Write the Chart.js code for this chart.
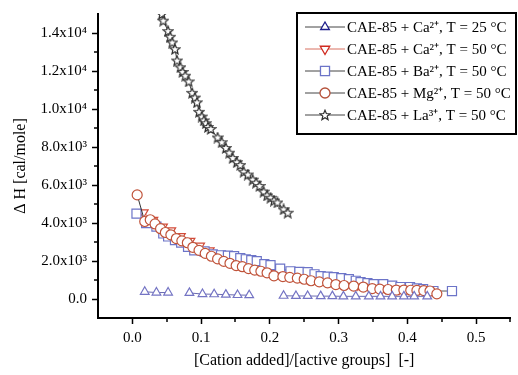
<!DOCTYPE html>
<html>
<head>
<meta charset="utf-8">
<script src="https://cdn.jsdelivr.net/npm/chart.js@4.4.1/dist/chart.umd.min.js"></script>
<style>
body { margin: 0; background: #fff; }
#wrap { width: 518px; height: 375px; position: relative; }
</style>
</head>
<body>
<div id="wrap"><canvas id="heatChart"></canvas></div>
<script>
// values (x = cation/active groups, y = delta H in cal/mole)
const ca25X = [0.018, 0.035, 0.052, 0.068, 0.083, 0.102, 0.119, 0.136, 0.153, 0.170, 0.195, 0.220, 0.238, 0.255, 0.274, 0.291, 0.307, 0.325, 0.344, 0.361, 0.378, 0.395, 0.410, 0.429];
const ca25Y = [380, 340, 340, null, 320, 260, 250, 230, 210, 200, null, 170, 160, 160, 150, 150, 140, 140, 140, 140, 140, 140, 140, 140];

const ca50X = [0.016, 0.030, 0.044, 0.056, 0.070, 0.084, 0.098, 0.112, 0.128, 0.144, 0.160, 0.176, 0.192, 0.210, 0.228, 0.248, 0.268, 0.288, 0.308, 0.328, 0.348, 0.368, 0.388, 0.408, 0.428];
const ca50Y = [4550, 4150, 3800, 3600, 3300, 3050, 2800, 2550, 2300, 2050, 1850, 1650, 1500, 1350, 1250, 1150, 1050, 950, 850, 750, 650, 580, 520, 480, 440];

const baX = [0.006, 0.020, 0.035, 0.045, 0.052, 0.062, 0.071, 0.081, 0.090, 0.105, 0.117, 0.129, 0.139, 0.148, 0.157, 0.165, 0.173, 0.181, 0.192, 0.201, 0.215, 0.230, 0.243, 0.255, 0.265, 0.274, 0.284, 0.293, 0.304, 0.315, 0.325, 0.332, 0.342, 0.351, 0.365, 0.378, 0.390, 0.404, 0.414, 0.423, 0.438, 0.465];
const baY = [4490, 4000, 3810, 3450, 3290, 3100, 2970, 2750, 2560, 2500, 2350, 2300, 2280, 2250, 2150, 2090, 2040, 1990, 1830, 1780, 1600, 1460, 1430, 1410, 1300, 1200, 1180, 1150, 1100, 1040, 960, 890, 830, 780, 780, 700, 630, 630, 560, 520, 420, 420];

const mgX = [0.007, 0.018, 0.026, 0.033, 0.041, 0.048, 0.056, 0.064, 0.072, 0.080, 0.088, 0.097, 0.106, 0.115, 0.124, 0.133, 0.142, 0.151, 0.160, 0.169, 0.178, 0.187, 0.196, 0.206, 0.219, 0.229, 0.240, 0.250, 0.260, 0.272, 0.284, 0.296, 0.308, 0.322, 0.336, 0.349, 0.360, 0.372, 0.384, 0.395, 0.405, 0.414, 0.424, 0.433, 0.443];
const mgY = [5480, 4080, 4170, 3950, 3700, 3500, 3380, 3180, 3060, 2960, 2720, 2560, 2400, 2250, 2110, 1980, 1880, 1760, 1700, 1600, 1520, 1460, 1380, 1220, 1180, 1140, 1100, 1040, 960, 900, 850, 760, 710, 680, 630, 550, 520, 500, 470, 470, 460, 450, 440, 420, 270];

const laX = [0.043, 0.045, 0.052, 0.055, 0.058, 0.062, 0.065, 0.070, 0.073, 0.077, 0.082, 0.087, 0.091, 0.094, 0.097, 0.101, 0.104, 0.107, 0.110, 0.114, 0.124, 0.130, 0.136, 0.141, 0.146, 0.152, 0.157, 0.162, 0.168, 0.175, 0.180, 0.185, 0.191, 0.196, 0.201, 0.206, 0.211, 0.220, 0.226];
const laY = [15000, 14650, 14100, 13800, 13500, 13150, 12550, 12200, 11950, 11750, 11450, 10850, 10600, 10350, 9850, 9600, 9400, 9250, 9050, 8950, 8500, 8250, 7950, 7700, 7420, 7200, 7050, 6700, 6550, 6280, 6120, 5950, 5650, 5450, 5330, 5180, 5080, 4720, 4540];

const seriesLabels = [
  'CAE-85 + Ca\u00B2\u207A, T = 25 \u00B0C',
  'CAE-85 + Ca\u00B2\u207A, T = 50 \u00B0C',
  'CAE-85 + Ba\u00B2\u207A, T = 50 \u00B0C',
  'CAE-85 + Mg\u00B2\u207A, T = 50 \u00B0C',
  'CAE-85 + La\u00B3\u207A, T = 50 \u00B0C'
];

const xTickValues = [0, 0.1, 0.2, 0.3, 0.4, 0.5];
const xTickLabels = ['0.0', '0.1', '0.2', '0.3', '0.4', '0.5'];
const xMinorValues = [0.05, 0.15, 0.25, 0.35, 0.45, 0.55];
const yTickValues = [0, 2000, 4000, 6000, 8000, 10000, 12000, 14000];
const yTickLabels = ['0.0', '2.0x10\u00B3', '4.0x10\u00B3', '6.0x10\u00B3', '8.0x10\u00B3', '1.0x10\u2074', '1.2x10\u2074', '1.4x10\u2074'];
const yMinorValues = [1000, 3000, 5000, 7000, 9000, 11000, 13000];

const FONT = '"Liberation Serif", "Times New Roman", serif';

function toPoints(xs, ys) {
  return xs.map((x, i) => ({ x: x, y: ys[i] }));
}

// five pointed star marker, drawn once into a small canvas
function makeStar(color) {
  const cv = document.createElement('canvas');
  cv.width = 12; cv.height = 12;
  const c = cv.getContext('2d');
  c.beginPath();
  for (let i = 0; i < 10; i++) {
    const r = i % 2 === 0 ? 5.2 : 2.3;
    const a = -Math.PI / 2 + i * Math.PI / 5;
    const px = 6 + r * Math.cos(a), py = 6.4 + r * Math.sin(a);
    if (i === 0) c.moveTo(px, py); else c.lineTo(px, py);
  }
  c.closePath();
  c.fillStyle = '#fff';
  c.fill();
  c.strokeStyle = color;
  c.lineWidth = 1.2;
  c.stroke();
  return cv;
}

const starPlot = makeStar('#2e2e2e');

const minorTicks = {
  id: 'minorTicks',
  afterDraw(chart) {
    const c = chart.ctx, a = chart.chartArea;
    const xs = chart.scales.x, ys = chart.scales.y;
    c.save();
    c.strokeStyle = '#000';
    c.lineWidth = 1.5;
    c.beginPath();
    xMinorValues.forEach(v => {
      const px = Math.round(xs.getPixelForValue(v));
      c.moveTo(px, a.bottom); c.lineTo(px, a.bottom + 4);
    });
    yMinorValues.forEach(v => {
      const py = Math.round(ys.getPixelForValue(v));
      c.moveTo(a.left, py); c.lineTo(a.left - 4, py);
    });
    c.stroke();
    c.restore();
  }
};

const legendBox = {
  id: 'legendBox',
  afterDraw(chart) {
    const c = chart.ctx;
    c.save();
    c.fillStyle = '#fff';
    c.fillRect(297, 13, 219, 121);
    c.lineWidth = 2;
    c.strokeStyle = '#000';
    c.strokeRect(297, 13, 219, 121);
    chart.data.datasets.forEach((ds, i) => {
      const y = 27 + i * 22;
      c.strokeStyle = ds.legendLine;
      c.lineWidth = 1;
      c.beginPath();
      c.moveTo(305, y); c.lineTo(345, y);
      c.stroke();
      c.fillStyle = '#fff';
      c.strokeStyle = ds.legendColor;
      c.lineWidth = 1.3;
      Chart.helpers.drawPoint(c, {
        pointStyle: ds.pointStyle, radius: ds.pointRadius,
        rotation: ds.pointRotation || 0, borderWidth: 1.3
      }, 325, y);
      c.fillStyle = '#000';
      c.font = '15px ' + FONT;
      c.textBaseline = 'middle';
      c.fillText(ds.label, 347, y + 1);
    });
    c.restore();
  }
};

const ctx = document.getElementById('heatChart').getContext('2d');

new Chart(ctx, {
  type: 'scatter',
  data: {
    datasets: [
      {
        label: seriesLabels[0], data: toPoints(ca25X, ca25Y), showLine: true, spanGaps: false,
        borderColor: '#6a6ab0', borderWidth: 1, pointStyle: 'triangle', pointRadius: 5,
        pointBorderColor: '#7474c4', pointBackgroundColor: '#fff', pointBorderWidth: 1.2,
        legendColor: '#1c1c8a', legendLine: '#444', order: 0
      },
      {
        label: seriesLabels[1], data: toPoints(ca50X, ca50Y), showLine: true,
        borderColor: '#d8705f', borderWidth: 1, pointStyle: 'triangle', pointRotation: 180, pointRadius: 5.5,
        pointBorderColor: '#d24a38', pointBackgroundColor: '#fff', pointBorderWidth: 1.2,
        legendColor: '#d02a20', legendLine: '#d87060', order: 3
      },
      {
        label: seriesLabels[2], data: toPoints(baX, baY), showLine: true,
        borderColor: '#555', borderWidth: 1, pointStyle: 'rect', pointRadius: 6.4,
        pointBorderColor: '#6c74c8', pointBackgroundColor: '#fff', pointBorderWidth: 1.2,
        legendColor: '#6c74c8', legendLine: '#444', order: 2
      },
      {
        label: seriesLabels[3], data: toPoints(mgX, mgY), showLine: true,
        borderColor: '#333', borderWidth: 1, pointStyle: 'circle', pointRadius: 5,
        pointBorderColor: '#c0533a', pointBackgroundColor: '#fff', pointBorderWidth: 1.2,
        legendColor: '#b5513a', legendLine: '#444', order: 1
      },
      {
        label: seriesLabels[4], data: toPoints(laX, laY), showLine: true,
        borderColor: '#444', borderWidth: 1, pointStyle: starPlot, pointRadius: 5,
        legendColor: '#3a3a3a', legendLine: '#444', order: 0
      }
    ]
  },
  options: {
    responsive: true,
    maintainAspectRatio: false,
    animation: false,
    layout: { padding: { top: 12, right: 6, left: 0, bottom: 0 } },
    plugins: {
      legend: { display: false },
      tooltip: { enabled: false }
    },
    scales: {
      x: {
        type: 'linear',
        min: -0.05,
        max: 0.55,
        afterBuildTicks: s => { s.ticks = xTickValues.map(v => ({ value: v })); },
        afterFit: s => { s.height = 57; },
        ticks: {
          callback: (v, i) => xTickLabels[i],
          color: '#000',
          padding: 5,
          maxRotation: 0,
          font: { family: FONT, size: 15 }
        },
        grid: { drawOnChartArea: false, tickLength: 6, tickColor: '#000', tickWidth: 1.5 },
        border: { color: '#000', width: 2 },
        title: {
          display: true,
          text: '[Cation added]/[active groups]  [-]',
          color: '#000',
          font: { family: FONT, size: 16 },
          padding: { top: 4, bottom: 5 }
        }
      },
      y: {
        type: 'linear',
        min: -1000,
        max: 15000,
        afterBuildTicks: s => { s.ticks = yTickValues.map(v => ({ value: v })); },
        afterFit: s => { s.width = 98; },
        ticks: {
          callback: (v, i) => yTickLabels[i],
          color: '#000',
          padding: 5,
          font: { family: FONT, size: 15 }
        },
        grid: { drawOnChartArea: false, tickLength: 6, tickColor: '#000', tickWidth: 1.5 },
        border: { color: '#000', width: 2 },
        title: {
          display: true,
          text: '\u0394 H [cal/mole]',
          color: '#000',
          font: { family: FONT, size: 16 },
          padding: { top: 11, bottom: 0 }
        }
      }
    }
  },
  plugins: [minorTicks, legendBox]
});
</script>
</body>
</html>
